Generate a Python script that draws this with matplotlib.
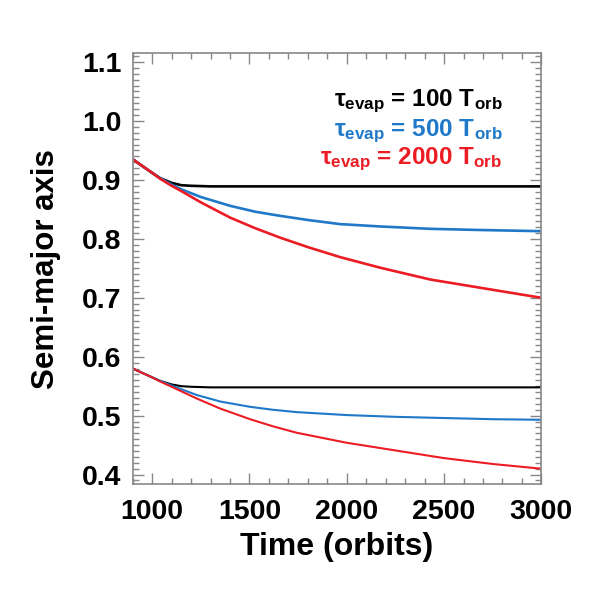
import numpy as np
import matplotlib
matplotlib.use('Agg')
import matplotlib.pyplot as plt
from matplotlib.ticker import MultipleLocator, FormatStrFormatter

plt.rcParams['font.family'] = ['Liberation Sans', 'DejaVu Sans']
plt.rcParams['font.weight'] = 'bold'
plt.rcParams['mathtext.fontset'] = 'custom'
plt.rcParams['mathtext.rm'] = 'Liberation Sans:bold'
plt.rcParams['mathtext.it'] = 'Liberation Sans:bold'
plt.rcParams['mathtext.bf'] = 'Liberation Sans:bold'

# --- data ---
# outer planet (starts at a~0.935)
t_up_bk = [900, 1000, 1041, 1100, 1150, 1200, 1300, 1600, 2000, 2500, 3000]
black_up = [0.935, 0.912, 0.903, 0.895, 0.891, 0.890, 0.889, 0.889, 0.889, 0.889, 0.889]
t_up = [900, 1000, 1041, 1100, 1150, 1250, 1401, 1530, 1658, 1800, 1966, 2172, 2429, 2686, 3000]
blue_up = [0.935, 0.912, 0.903, 0.892, 0.884, 0.871, 0.856, 0.846, 0.839, 0.832, 0.825, 0.821, 0.817, 0.815, 0.813]
red_up = [0.935, 0.912, 0.902, 0.890, 0.881, 0.862, 0.836, 0.818, 0.802, 0.786, 0.769, 0.751, 0.731, 0.717, 0.700]

# inner planet (starts at a~0.58)
t_lo_bk = [900, 1000, 1041, 1100, 1150, 1200, 1300, 1600, 2000, 2500, 3000]
black_lo = [0.580, 0.565, 0.559, 0.553, 0.550, 0.549, 0.548, 0.548, 0.548, 0.548, 0.548]
t_lo = [900, 1000, 1041, 1100, 1230, 1350, 1503, 1620, 1743, 2000, 2250, 2499, 2750, 3000]
blue_lo = [0.580, 0.565, 0.559, 0.551, 0.535, 0.524, 0.515, 0.510, 0.506, 0.501, 0.498, 0.496, 0.494, 0.493]
red_lo = [0.580, 0.565, 0.558, 0.549, 0.529, 0.512, 0.494, 0.482, 0.471, 0.454, 0.441, 0.428, 0.418, 0.410]

taus = ['100', '500', '2000']
colors = ['black', '#1f78c8', '#ec1c24']
label_y = [1.034, 0.983, 0.935]

fig = plt.figure(figsize=(5.91, 5.91), dpi=100)
ax = fig.add_axes([0.2245, 0.181, 0.6915, 0.729])

ax.plot(t_up_bk, black_up, color=colors[0], lw=1.9)
ax.plot(t_up, blue_up, color=colors[1], lw=1.9)
ax.plot(t_up, red_up, color=colors[2], lw=1.9)
ax.plot(t_lo_bk, black_lo, color=colors[0], lw=1.5)
ax.plot(t_lo, blue_lo, color=colors[1], lw=1.5)
ax.plot(t_lo, red_lo, color=colors[2], lw=1.5)

ax.set_xlim(900, 3000)
ax.set_ylim(0.384, 1.115)
ax.xaxis.set_major_locator(MultipleLocator(500))
ax.xaxis.set_minor_locator(MultipleLocator(100))
ax.yaxis.set_major_locator(MultipleLocator(0.1))
ax.yaxis.set_minor_locator(MultipleLocator(0.01))
ax.yaxis.set_major_formatter(FormatStrFormatter('%.1f'))
ax.tick_params(which='both', direction='in', top=True, right=True, color='#888888', width=1)
ax.tick_params(which='major', length=8, labelsize=20.5, pad=8)
ax.tick_params(axis='x', which='major', pad=11)
ax.tick_params(which='minor', length=4)
for s in ax.spines.values():
    s.set_color('#888888')
    s.set_linewidth(1.2)

ax.set_xlabel('Time (orbits)', fontsize=23, fontweight='bold', labelpad=5)
ax.set_ylabel('Semi-major axis', fontsize=22.5, fontweight='bold', labelpad=15)

for tau, c, yy in zip(taus, colors, label_y):
    ax.text(2800, yy, r'$\tau_{evap}$ = ' + tau + r' T$_{orb}$',
            ha='right', va='center', color=c, fontsize=17.5, fontweight='bold')

fig.savefig('out.png', dpi=100)
